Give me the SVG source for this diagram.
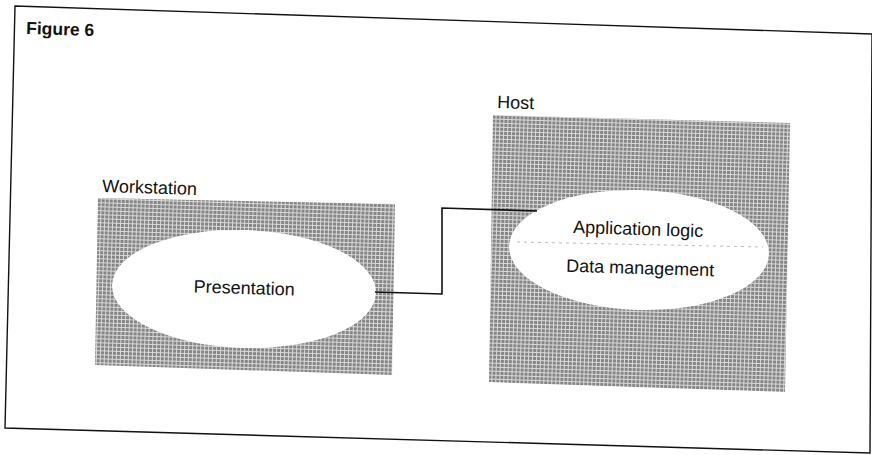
<svg xmlns="http://www.w3.org/2000/svg" width="872" height="455" viewBox="0 0 872 455">
  <style>
    .lbl { font-family: "Liberation Sans", Arial, sans-serif; font-size: 18px; fill: #111; }
    .title { font-family: "Liberation Sans", Arial, sans-serif; font-size: 17.5px; font-weight: bold; fill: #111; }
    .hatch { fill: url(#dots); }
    .hole { fill: #ffffff; }
    .wire { fill: none; stroke: #111; stroke-width: 1.6; }
    .frame { fill: #ffffff; stroke: #111; stroke-width: 1.4; }
  </style>
  <defs>
    <pattern id="dots" width="4" height="4" patternUnits="userSpaceOnUse" patternTransform="rotate(1.8)">
      <rect width="4" height="4" fill="#dadada"/>
      <rect width="3" height="3" fill="#858585"/>
    </pattern>
  </defs>
  <rect width="872" height="455" fill="#ffffff"/>
  <polygon class="frame" points="15,6 872,34 870,453 5,428"/>
  <text class="title" x="26" y="34" transform="rotate(1.8 26 34)">Figure 6</text>

  <g id="workstation">
    <polygon class="hatch" points="98,198 395,204 392,375 95,365"/>
    <ellipse class="hole" cx="244" cy="289" rx="132" ry="59" transform="rotate(1.8 244 289)"/>
    <text class="lbl" x="102" y="192" transform="rotate(1.8 102 192)">Workstation</text>
    <text class="lbl" x="244" y="294" text-anchor="middle" transform="rotate(1.8 244 294)">Presentation</text>
  </g>

  <g id="host">
    <polygon class="hatch" points="493,115 790,123 785,392 489,382"/>
    <ellipse class="hole" cx="639" cy="250" rx="130" ry="60" transform="rotate(1.8 639 250)"/>
    <line x1="517" y1="242" x2="763" y2="247" stroke="#bbbbbb" stroke-width="1" stroke-dasharray="3 4"/>
    <text class="lbl" x="497" y="108" transform="rotate(1.8 497 108)">Host</text>
    <text class="lbl" x="638" y="235" text-anchor="middle" transform="rotate(1.8 638 235)">Application logic</text>
    <text class="lbl" x="640" y="274" text-anchor="middle" transform="rotate(1.8 640 274)">Data management</text>
  </g>

  <g id="connectors">
    <polyline class="wire" points="375,292 442,294 442,208 537,211"/>
  </g>
</svg>
